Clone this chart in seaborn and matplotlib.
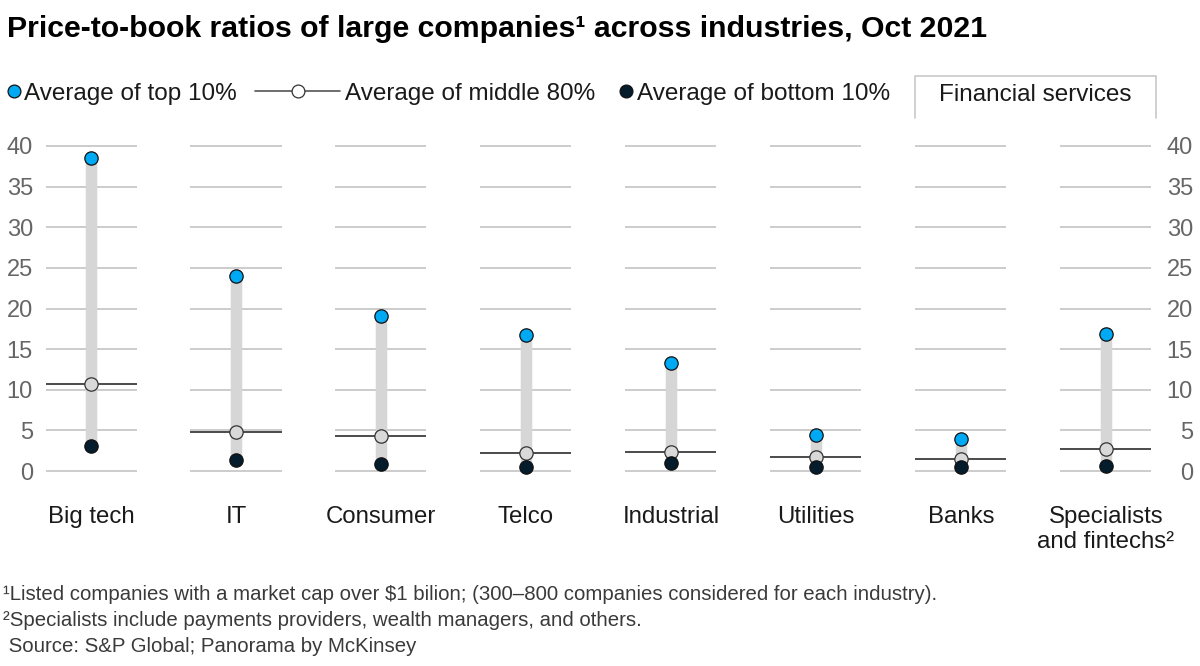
import matplotlib
matplotlib.use("Agg")
import matplotlib.pyplot as plt
import seaborn as sns
import pandas as pd
import numpy as np

# ---------------- data ----------------
categories = ["Big tech", "IT", "Consumer", "Telco", "Industrial",
              "Utilities", "Banks", "Specialists\nand fintechs²"]
top_10 = [38.5, 24.0, 19.1, 16.7, 13.3, 4.45, 3.95, 16.9]
middle_80 = [10.7, 4.85, 4.3, 2.2, 2.4, 1.7, 1.45, 2.7]
bottom_10 = [3.1, 1.35, 0.85, 0.55, 0.95, 0.45, 0.45, 0.6]
y_ticks = [0, 5, 10, 15, 20, 25, 30, 35, 40]
legend_labels = ["Average of top 10%", "Average of middle 80%", "Average of bottom 10%"]
group_label = "Financial services"
title = "Price-to-book ratios of large companies¹ across industries, Oct 2021"
footnotes = [
    "¹Listed companies with a market cap over $1 bilion; (300–800 companies considered for each industry).",
    "²Specialists include payments providers, wealth managers, and others.",
    " Source: S&P Global; Panorama by McKinsey",
]

# ---------------- style ----------------
C_TOP = "#00a9f4"
C_BOT = "#051c2c"
C_MID_FILL = "#d9d9d9"
C_BAR = "#d6d6d6"
C_GRID = "#c8c8c8"
C_TEXT = "#1a1a1a"
C_TICK = "#666666"

sns.set_theme(style="white")
plt.rcParams["font.family"] = ["Liberation Sans", "DejaVu Sans"]

W, H = 1200, 666
fig = plt.figure(figsize=(W / 100, H / 100), dpi=100)


def px(v):
    return v * 0.72


ax_top, ax_bot = 130, 490
ax = fig.add_axes([0, 1 - ax_bot / H, 1, (ax_bot - ax_top) / H])

x = np.arange(len(categories))
df = pd.DataFrame({
    "pos": np.tile(x, 3),
    "value": top_10 + middle_80 + bottom_10,
    "series": np.repeat(legend_labels, len(x)),
})

half = 45.5 / 145
for i in x:
    ax.hlines(y_ticks, i - half, i + half, color=C_GRID, lw=1.3, zorder=1)
ax.vlines(x, bottom_10, top_10, color=C_BAR, lw=px(11.5), zorder=2)
ax.hlines(middle_80, x - half, x + half, color=C_TEXT, lw=1.1, zorder=3)

sns.scatterplot(data=df[df.series == legend_labels[0]], x="pos", y="value",
                color=C_TOP, s=92, edgecolor="#111111", linewidth=0.9,
                zorder=5, ax=ax, legend=False)
sns.scatterplot(data=df[df.series == legend_labels[1]], x="pos", y="value",
                color=C_MID_FILL, s=92, edgecolor="#333333", linewidth=0.9,
                zorder=4, ax=ax, legend=False)
sns.scatterplot(data=df[df.series == legend_labels[2]], x="pos", y="value",
                color=C_BOT, s=92, edgecolor="#111111", linewidth=0.9,
                zorder=5, ax=ax, legend=False)

ax.set_xlim(-91 / 145, (W - 91) / 145)
ax.set_ylim((471 - ax_bot) / 8.125, (471 - ax_top) / 8.125)
ax.set_xlabel("")
ax.set_ylabel("")
ax.grid(False)
for s in ax.spines.values():
    s.set_visible(False)

ax.set_xticks(x, categories)
ax.tick_params(axis="x", length=0, pad=px(16), labelsize=17.3, labelcolor=C_TEXT)
for t in ax.get_xticklabels():
    t.set_linespacing(1.15)

ax.set_yticks(y_ticks, [str(v) for v in y_ticks])
ax.tick_params(axis="y", length=0, pad=-px(33), labelsize=17, labelcolor=C_TICK)

ax2 = ax.twinx()
ax2.set_ylim(ax.get_ylim())
ax2.set_yticks(y_ticks)
ax2.set_yticklabels([str(v) for v in y_ticks], ha="right")
ax2.tick_params(axis="y", length=0, pad=-px(7), labelsize=17, labelcolor=C_TICK)
ax2.grid(False)
for s in ax2.spines.values():
    s.set_visible(False)

# ---------------- overlay: title, legend, notes ----------------
ov = fig.add_axes([0, 0, 1, 1])
ov.set_xlim(0, W)
ov.set_ylim(H, 0)
ov.axis("off")
ov.patch.set_alpha(0)

ov.text(7, 37, title, fontsize=21.8, fontweight="bold", color="black",
        ha="left", va="baseline")

ly, lb = 91, 100
ov.scatter([14], [ly], s=85, c=C_TOP, edgecolors="#111111", linewidths=0.9, zorder=3)
ov.text(24, lb, legend_labels[0], fontsize=17.5, color=C_TEXT, ha="left", va="baseline")
ov.plot([255, 340], [ly, ly], color="#555555", lw=1.2, zorder=2)
ov.scatter([298], [ly], s=85, c="white", edgecolors="#333333", linewidths=0.9, zorder=3)
ov.text(345, lb, legend_labels[1], fontsize=17.5, color=C_TEXT, ha="left", va="baseline")
ov.scatter([626], [ly], s=85, c=C_BOT, edgecolors="#111111", linewidths=0.9, zorder=3)
ov.text(637, lb, legend_labels[2], fontsize=17.5, color=C_TEXT, ha="left", va="baseline")

ov.plot([915, 915, 1156, 1156], [118, 76, 76, 118], color=C_GRID, lw=1.2)
ov.text(1035, 101, group_label, fontsize=17.5, color=C_TEXT, ha="center", va="baseline")

for yb, note in zip([600, 626, 652], footnotes):
    ov.text(3, yb, note, fontsize=14.7, color="#3a3a3a", ha="left", va="baseline")

fig.savefig("out.png", dpi=100)
